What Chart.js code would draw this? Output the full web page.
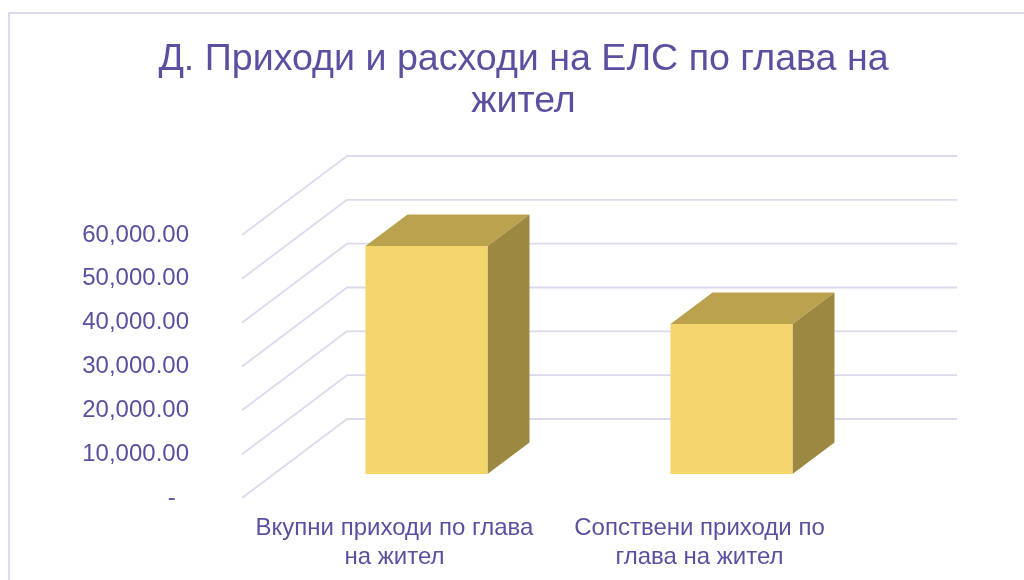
<!DOCTYPE html>
<html>
<head>
<meta charset="utf-8">
<style>
html,body{margin:0;padding:0;background:#fff;overflow:hidden}
#wrap{position:relative;width:1024px;height:580px}
#frame{position:absolute;left:8px;top:12px;right:-4px;bottom:-4px;border:2px solid #dcdaee;box-sizing:border-box}
canvas{position:absolute;left:0;top:0}
</style>
<script src="https://cdn.jsdelivr.net/npm/chart.js@4"></script>
</head>
<body>
<div id="wrap"><div id="frame"></div><canvas id="c" width="1024" height="580"></canvas></div>
<script>
const titleLines = ['Д. Приходи и расходи на ЕЛС по глава на', 'жител'];
const categories = [['Вкупни приходи по глава', 'на жител'], ['Сопствени приходи по', 'глава на жител']];
const seriesValues = [52000, 34200];
const tickStep = 10000;
const axisMax = 60000;

const INK = '#5b50a0', GRID = '#dcdaee';
const FRONT = '#f3d56b', TOP = '#baa24f', SIDE = '#9c8840';
const WALL_DX = 105, WALL_DY = -79, WALL_RIGHT = 105;
const BAR_DX = 32, BAR_DY = -24, DEPTH_DX = 42, DEPTH_DY = -31.5;
const FAMILY = '"Liberation Sans", Arial, sans-serif';

function poly(ctx, pts, fill) {
  ctx.beginPath();
  pts.forEach((p, i) => i ? ctx.lineTo(p[0], p[1]) : ctx.moveTo(p[0], p[1]));
  ctx.closePath();
  ctx.fillStyle = fill;
  ctx.fill();
}

const depth3d = {
  id: 'depth3d',
  beforeDatasetsDraw(chart) {
    const { ctx, scales: { x, y } } = chart;
    ctx.save();
    ctx.strokeStyle = GRID;
    ctx.lineWidth = 1.8;
    ctx.lineJoin = 'round';
    y.ticks.forEach(t => {
      const py = y.getPixelForValue(t.value);
      ctx.beginPath();
      ctx.moveTo(x.left, py);
      ctx.lineTo(x.left + WALL_DX, py + WALL_DY);
      ctx.lineTo(x.right + WALL_RIGHT, py + WALL_DY);
      ctx.stroke();
    });
    chart.getDatasetMeta(0).data.forEach(b => {
      const l = b.x - b.width / 2 + BAR_DX, r = b.x + b.width / 2 + BAR_DX;
      const t = b.y + BAR_DY, bt = b.base + BAR_DY;
      poly(ctx, [[l, t], [r, t], [r + DEPTH_DX, t + DEPTH_DY], [l + DEPTH_DX, t + DEPTH_DY]], TOP);
      poly(ctx, [[r, t], [r + DEPTH_DX, t + DEPTH_DY], [r + DEPTH_DX, bt + DEPTH_DY], [r, bt]], SIDE);
    });
    ctx.translate(BAR_DX, BAR_DY);
  },
  afterDatasetsDraw(chart) {
    chart.ctx.restore();
  }
};

new Chart(document.getElementById('c'), {
  type: 'bar',
  data: {
    labels: categories,
    datasets: [{
      data: seriesValues,
      backgroundColor: FRONT,
      borderWidth: 0,
      barPercentage: 0.4,
      categoryPercentage: 1
    }]
  },
  options: {
    responsive: false,
    animation: false,
    devicePixelRatio: 1,
    layout: { padding: { left: 23, right: 0, top: 0, bottom: 0 } },
    plugins: {
      legend: { display: false },
      tooltip: { enabled: false },
      title: {
        display: true,
        text: titleLines,
        color: INK,
        font: { family: FAMILY, size: 37.6, weight: 'normal', lineHeight: '42px' },
        padding: { top: 39, bottom: 112 }
      }
    },
    scales: {
      x: {
        grid: { display: false },
        border: { display: false },
        ticks: {
          color: INK, maxRotation: 0, autoSkip: false, padding: 8,
          font: { family: FAMILY, size: 24, lineHeight: '29px' }
        },
        afterFit(s) { s.height = 82; }
      },
      y: {
        min: 0, max: axisMax,
        grid: { display: false, tickLength: 0 },
        border: { display: false },
        ticks: {
          stepSize: tickStep, color: INK, padding: 53,
          font: { family: FAMILY, size: 24 },
          callback: v => v === 0 ? '-  ' : v.toLocaleString('en-US', { minimumFractionDigits: 2, maximumFractionDigits: 2 })
        },
        afterFit(s) { s.width = 219; }
      },
      spacer: {
        position: 'right',
        min: 0, max: axisMax,
        grid: { display: false },
        border: { display: false },
        ticks: { display: false },
        afterFit(s) { s.width = 172; }
      }
    }
  },
  plugins: [depth3d]
});
</script>
</body>
</html>
